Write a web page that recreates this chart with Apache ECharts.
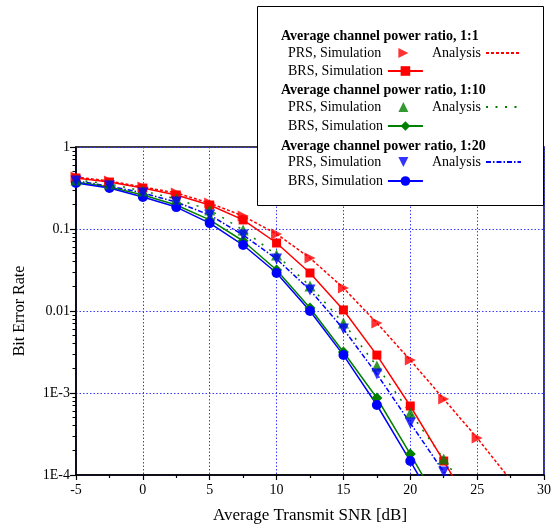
<!DOCTYPE html>
<html>
<head>
<meta charset="utf-8">
<script src="https://cdn.jsdelivr.net/npm/echarts@6/dist/echarts.min.js"></script>
<style>html,body{margin:0;padding:0;background:#fff;}#c{width:554px;height:528px;}</style>
</head>
<body>
<div id="c"></div>
<script>
// ---- data ----
var snr = [-5, -2.5, 0, 2.5, 5, 7.5, 10, 12.5, 15, 17.5, 20, 22.5, 25, 27.5];
var prs11Sim = [0.431, 0.385, 0.325, 0.275, 0.207, 0.144, 0.0869, 0.0443, 0.0191, 0.00714, 0.00252, 0.000845, 0.000283];
var prs11Ana = [0.431, 0.385, 0.325, 0.275, 0.207, 0.144, 0.0869, 0.0443, 0.0191, 0.00714, 0.00252, 0.000845, 0.000283, 0.0000869];
var brs11 = [0.419, 0.374, 0.316, 0.260, 0.196, 0.129, 0.0675, 0.0291, 0.0103, 0.0029, 0.000694, 0.000148, 0.0000299];
var prs110Sim = [0.396, 0.354, 0.291, 0.232, 0.171, 0.0972, 0.0482, 0.0202, 0.00714, 0.00213, 0.00057, 0.000157];
var prs110Ana = [0.396, 0.354, 0.291, 0.232, 0.171, 0.0972, 0.0482, 0.0202, 0.00714, 0.00213, 0.00057, 0.000157, 0.000043];
var brs110 = [0.374, 0.325, 0.260, 0.196, 0.129, 0.0714, 0.0316, 0.0109, 0.00316, 0.000869, 0.00018, 0.0000354];
var prs120Sim = [0.385, 0.334, 0.275, 0.213, 0.148, 0.0845, 0.0431, 0.018, 0.00603, 0.0017, 0.00043, 0.000109];
var prs120Ana = [0.385, 0.334, 0.275, 0.213, 0.148, 0.0845, 0.0431, 0.018, 0.00603, 0.0017, 0.00043, 0.000109, 0.0000267];
var brs120 = [0.364, 0.316, 0.246, 0.185, 0.118, 0.0638, 0.0291, 0.01, 0.0029, 0.000714, 0.000148, 0.000029];

var xTickLabels = ['-5', '0', '5', '10', '15', '20', '25', '30'];
var yTickLabels = ['1E-4', '1E-3', '0.01', '0.1', '1'];
var yDecadeExps = [-4, -3, -2, -1];
var minorMultipliers = [2, 3, 4, 5, 6, 7, 8, 9];
var yMinorTickExps = [];
yDecadeExps.forEach(function (e) { minorMultipliers.forEach(function (k) { yMinorTickExps.push(e + Math.log10(k)); }); });

var headers = ['Average channel power ratio, 1:1', 'Average channel power ratio, 1:10', 'Average channel power ratio, 1:20'];
var labelMap = {
  PRS11: 'PRS, Simulation', ANA11: 'Analysis', BRS11: 'BRS, Simulation',
  PRS110: 'PRS, Simulation', ANA110: 'Analysis', BRS110: 'BRS, Simulation',
  PRS120: 'PRS, Simulation', ANA120: 'Analysis', BRS120: 'BRS, Simulation'
};

function pairs(arr) { return arr.map(function (v, i) { return [snr[i], v]; }); }

var FONT = "'Liberation Serif', 'Times New Roman', serif";
var RED = '#ff0000', GREEN = '#008000', BLUE = '#0000ff';
var PLOT_W = 554 - 76 - 10;

function scatterS(name, data, color, symbol, rot, size) {
  return { name: name, type: 'scatter', data: pairs(data), symbol: symbol, symbolRotate: rot, symbolSize: size,
    itemStyle: { color: color }, z: 4 };
}
function anaS(name, data, color, dash) {
  return { name: name, type: 'line', data: pairs(data), symbol: 'none', showSymbol: false,
    lineStyle: { color: color, width: 1.5, type: dash }, itemStyle: { color: color }, z: 2 };
}
function brsS(name, data, color, symbol, size) {
  return { name: name, type: 'line', data: pairs(data), symbol: symbol, symbolSize: size, showAllSymbol: true,
    lineStyle: { color: color, width: 1.5 }, itemStyle: { color: color }, z: 3 };
}

var series = [
  anaS('ANA11', prs11Ana, RED, [3, 2]),
  brsS('BRS11', brs11, RED, 'rect', 9),
  scatterS('PRS11', prs11Sim, RED, 'triangle', -90, 11),
  anaS('ANA110', prs110Ana, GREEN, [2, 7.5]),
  brsS('BRS110', brs110, GREEN, 'diamond', 11),
  scatterS('PRS110', prs110Sim, GREEN, 'triangle', 0, 11),
  anaS('ANA120', prs120Ana, BLUE, [5, 2, 1.5, 2]),
  brsS('BRS120', brs120, BLUE, 'circle', 10),
  scatterS('PRS120', prs120Sim, BLUE, 'triangle', 180, 11)
];

var ICON_RIGHT = 'path://M0,0L10,5L0,10Z';
var ICON_UP = 'path://M5,0L10,10L0,10Z';
var ICON_DOWN = 'path://M0,0L10,0L5,10Z';
var rows = [
  { name: 'PRS11', kind: 'sim', icon: ICON_RIGHT, cy: 54 }, { name: 'ANA11', kind: 'ana', cy: 54 }, { name: 'BRS11', kind: 'brs', cy: 72 },
  { name: 'PRS110', kind: 'sim', icon: ICON_UP, cy: 108 }, { name: 'ANA110', kind: 'ana', cy: 108 }, { name: 'BRS110', kind: 'brs', cy: 127 },
  { name: 'PRS120', kind: 'sim', icon: ICON_DOWN, cy: 163 }, { name: 'ANA120', kind: 'ana', cy: 163 }, { name: 'BRS120', kind: 'brs', cy: 182 }
];
var legends = rows.map(function (r) {
  var L = {
    data: [r.name], top: r.cy - 8, align: 'right', orient: 'horizontal', padding: 0,
    selectedMode: false, z: 20,
    formatter: function (n) { return labelMap[n]; },
    textStyle: { fontFamily: FONT, fontSize: 14, color: '#000' }
  };
  if (r.kind === 'sim') {
    L.data = [{ name: r.name, icon: r.icon }];
    L.left = 288; L.itemWidth = 10; L.itemHeight = 10;
    L.textStyle.padding = [0, 12, 0, 0];
  } else if (r.kind === 'ana') {
    L.left = 432; L.itemWidth = 35; L.itemHeight = 12; L.itemStyle = { opacity: 0 };
  } else {
    L.left = 288; L.itemWidth = 35; L.itemHeight = 12;
  }
  return L;
});

var graphic = [
  { type: 'rect', shape: { x: 257.5, y: 6.5, width: 286, height: 199 }, style: { fill: '#fff', stroke: '#000', lineWidth: 1 }, z: 10 }
];
[36, 90, 146].forEach(function (cy, i) {
  graphic.push({ type: 'text', x: 281, y: cy, z: 20,
    style: { text: headers[i], font: 'bold 14px ' + FONT, fill: '#000', textVerticalAlign: 'middle' } });
});

var chart = echarts.init(document.getElementById('c'), null, { renderer: 'canvas' });
chart.setOption({
  animation: false,
  backgroundColor: '#fff',
  grid: { left: 76, right: 10, top: 147, bottom: 53, show: true, borderColor: '#000', borderWidth: 1.5,
    backgroundColor: 'transparent', containLabel: false, outerBoundsMode: 'none' },
  xAxis: {
    type: 'value', min: -5, max: 30, interval: 5,
    name: 'Average Transmit SNR [dB]', nameLocation: 'middle', nameGap: 32,
    nameTextStyle: { fontFamily: FONT, fontSize: 17, color: '#000' },
    axisLine: { show: true, onZero: false, lineStyle: { color: '#000', width: 1.5 } },
    axisTick: { show: true, inside: false, length: 5, lineStyle: { color: '#000', width: 1.2 } },
    minorTick: { show: true, splitNumber: 2, length: 3, lineStyle: { color: '#000', width: 1.2 } },
    axisLabel: { fontFamily: FONT, fontSize: 14, color: '#000', margin: 8,
      formatter: function (v) { var i = Math.round((v + 5) / 5); return xTickLabels[i] !== undefined ? xTickLabels[i] : ''; } },
    splitLine: { show: true, lineStyle: { color: '#3a3aff', type: [1.5, 2], width: 1 } }
  },
  yAxis: [{
    type: 'log', min: 0.0001, max: 1, logBase: 10, position: 'left',
    name: 'Bit Error Rate', nameLocation: 'middle', nameGap: 48, nameRotate: 90,
    nameTextStyle: { fontFamily: FONT, fontSize: 16, color: '#000' },
    axisLine: { show: true, onZero: false, lineStyle: { color: '#000', width: 1.5 } },
    axisTick: { show: true, inside: false, length: 6, lineStyle: { color: '#000', width: 1.2 } },
    axisLabel: { fontFamily: FONT, fontSize: 14, color: '#000', margin: 6,
      formatter: function (v) { var e = Math.round(Math.log10(v)); var i = e + 4; return yTickLabels[i] !== undefined ? yTickLabels[i] : ''; } },
    splitLine: { show: true, lineStyle: { color: '#3a3aff', type: [1.5, 2], width: 1 } }
  }, {
    // minor ticks (2..9 within each decade) on an exponent scale, moved onto the left edge
    type: 'value', min: -4, max: 0, position: 'right', offset: -PLOT_W,
    axisLine: { show: false, onZero: false },
    axisTick: { show: true, inside: true, length: 3.5, customValues: yMinorTickExps, lineStyle: { color: '#000', width: 1 } },
    axisLabel: { show: false },
    splitLine: { show: false }
  }],
  legend: legends,
  graphic: graphic,
  series: series
});
</script>
</body>
</html>
